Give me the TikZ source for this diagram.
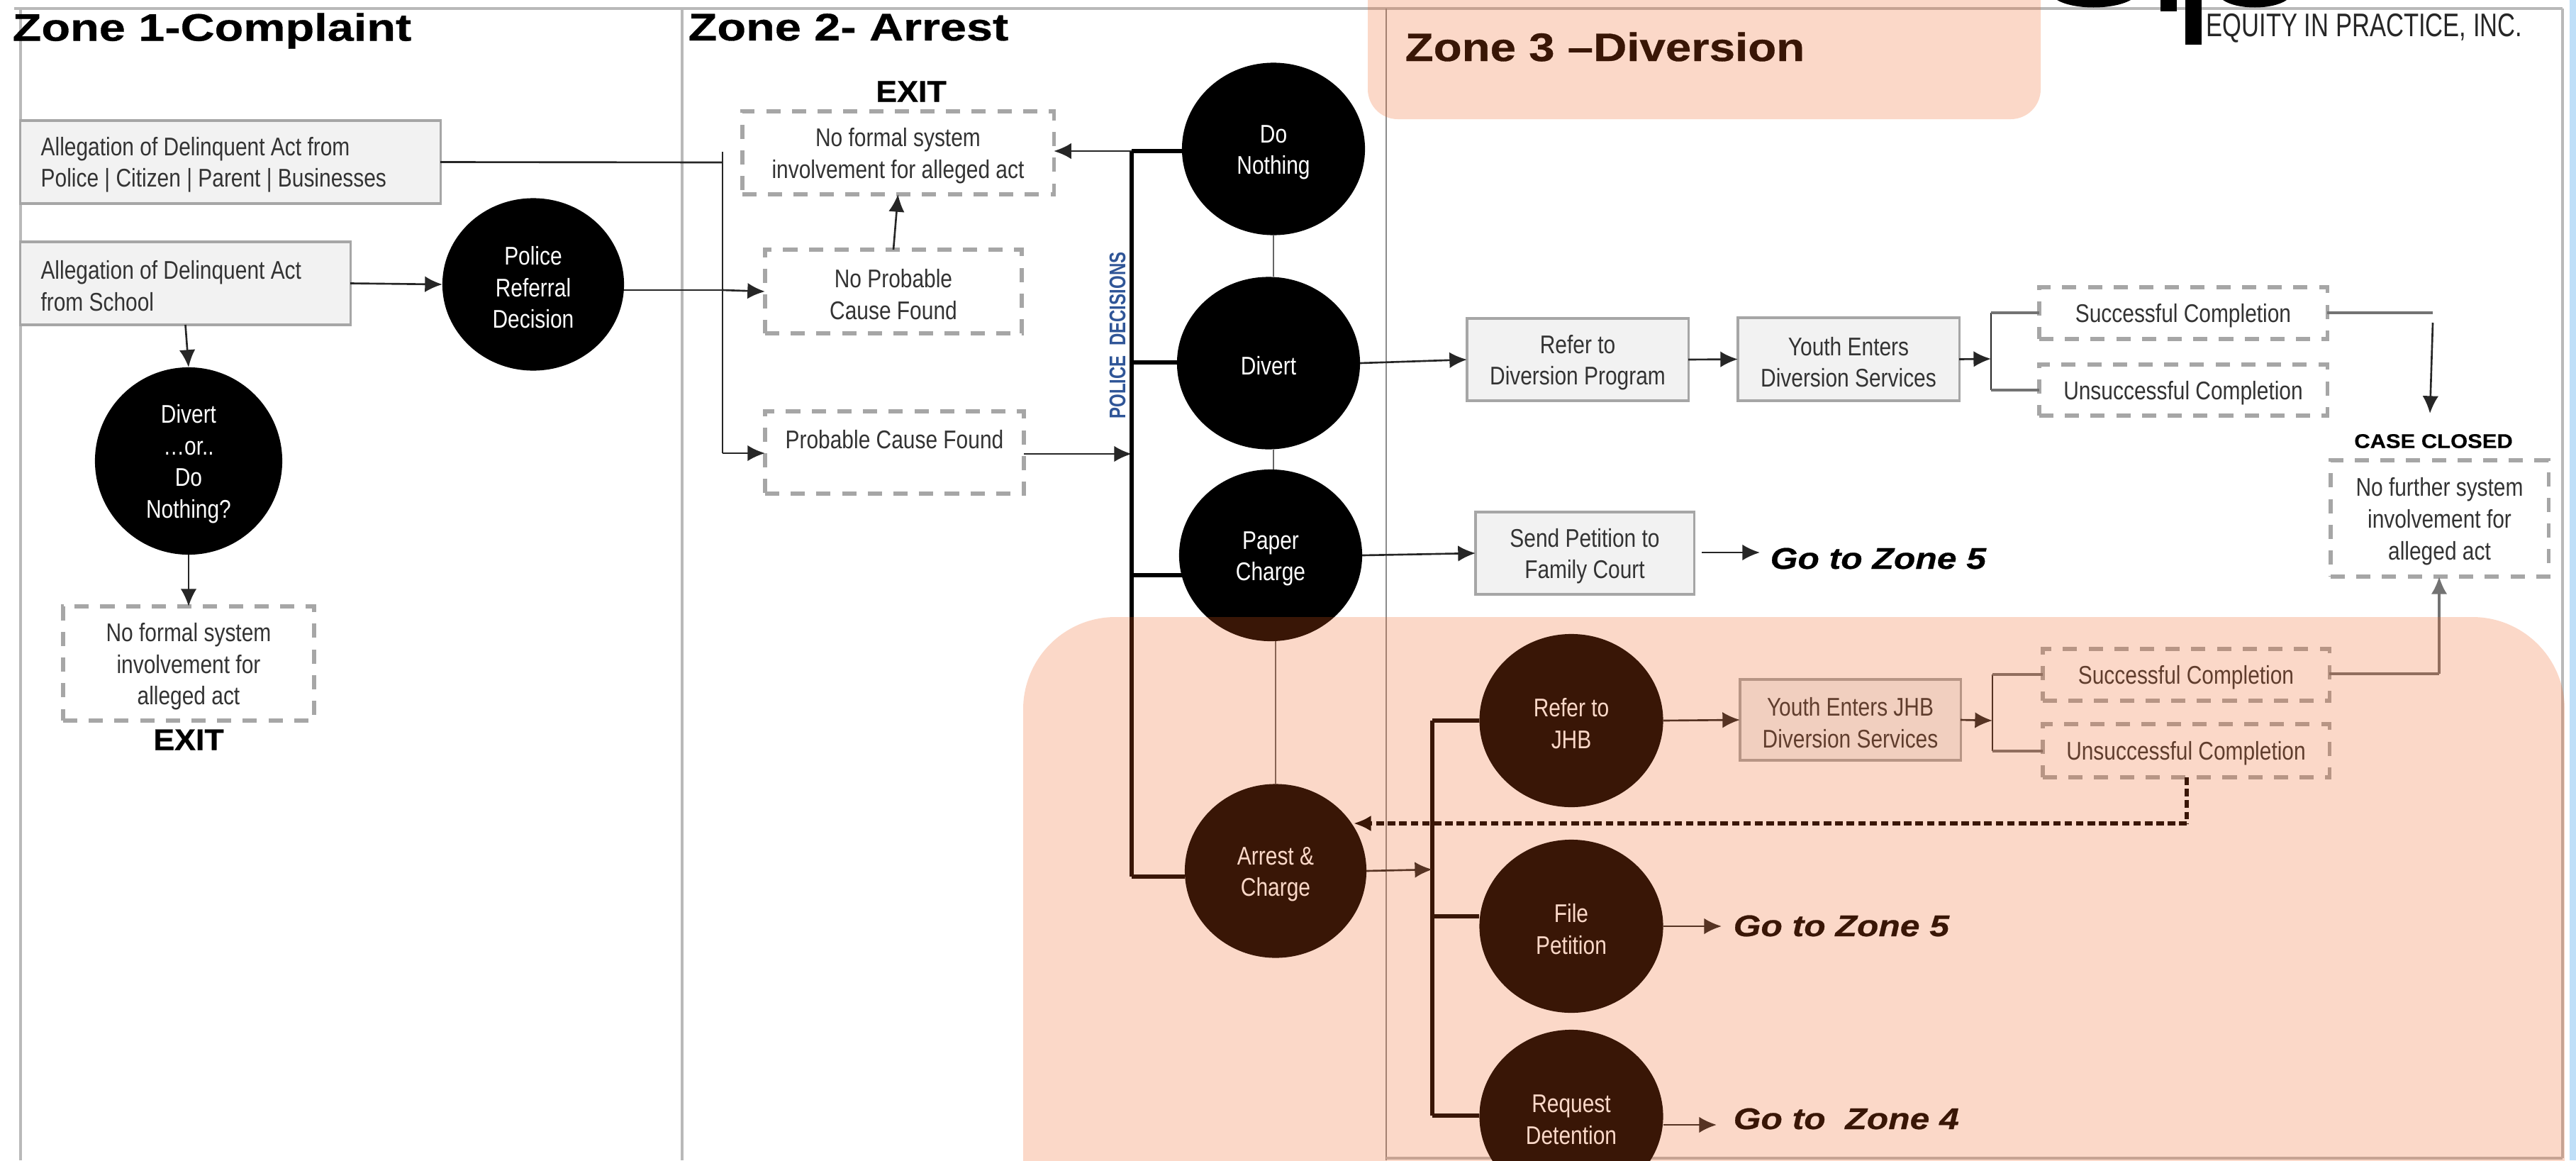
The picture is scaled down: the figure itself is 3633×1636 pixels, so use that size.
\documentclass[tikz,border=0pt]{standalone}
\usepackage{fontspec}
\usetikzlibrary{shapes.geometric,arrows.meta}
\setmainfont{Liberation Sans}
\newfontfamily\bodyf[FakeStretch=0.83]{Liberation Sans}
\newfontfamily\titleAf[FakeStretch=1.23,BoldFeatures={FakeBold=0.6}]{Liberation Sans}
\newfontfamily\titleBf[FakeStretch=1.17,BoldFeatures={FakeBold=0.6}]{Liberation Sans}
\newfontfamily\exitf[FakeStretch=1.06,BoldFeatures={FakeBold=0.6}]{Liberation Sans}
\newfontfamily\casef[FakeStretch=1.1,BoldFeatures={FakeBold=0.4}]{Liberation Sans}
\newfontfamily\gof[FakeStretch=1.18,BoldItalicFeatures={FakeBold=0.6}]{Liberation Sans}
\newfontfamily\polf[FakeStretch=0.75]{Liberation Sans}
\newfontfamily\logof[FakeStretch=0.75]{Liberation Sans}
\newcommand{\fstrut}{\rule{0pt}{9.8pt}}
\definecolor{framegray}{HTML}{B9B9B9}
\definecolor{boxgray}{HTML}{A6A6A6}
\definecolor{boxfill}{HTML}{F2F2F2}
\definecolor{txtdark}{HTML}{333333}
\definecolor{zonetint}{HTML}{F1601D}
\definecolor{polblue}{HTML}{2F5597}
\definecolor{stripblue}{HTML}{BFDFF8}
\tikzset{
  x=0.01cm, y=-0.01cm,
  bodytext/.style={font=\bodyf\fontsize{10.25}{12.7}\selectfont, text=txtdark, align=center, execute at begin node=\rule{0pt}{9.6pt}},
  gbox/.style 2 args={draw=boxgray, line width=0.9pt, fill=boxfill, inner sep=0pt, outer sep=0pt, bodytext,
     minimum width=#1*0.28453pt, minimum height=#2*0.28453pt},
  dbox/.style 2 args={draw=boxgray, line width=1.5pt, dash pattern=on 5.7pt off 4.6pt, fill=none, inner sep=0pt, outer sep=0pt, bodytext,
     minimum width=#1*0.28453pt, minimum height=#2*0.28453pt},
  disc/.style 2 args={ellipse, fill=black, inner sep=0pt, outer sep=0pt, bodytext, text=white,
     minimum width=#1*0.28453pt, minimum height=#2*0.28453pt},
  ztitle/.style={inner sep=0pt, font=\titleAf\bfseries\fontsize{15.4}{18}\selectfont, text=black},
  exitlab/.style={inner sep=0pt, font=\exitf\bfseries\fontsize{12}{14}\selectfont, text=black},
  golab/.style={inner sep=0pt, anchor=base west, font=\gof\bfseries\itshape\fontsize{12}{14}\selectfont, text=black},
  conn/.style={draw=black!85, line width=0.75pt},
  arr/.style={conn, -{Latex[length=7pt,width=6.4pt]}},
  heavy/.style={draw=black, line width=1.6pt},
  stub/.style={draw=black!60, line width=0.6pt},
  graythin/.style={draw=black!55, line width=0.9pt},
  frameln/.style={draw=framegray, line width=1.15pt},
}
\begin{document}
\begin{tikzpicture}
\useasboundingbox (0,0) rectangle (3633,1636);
\clip (0,0) rectangle (3633,1636);
\fill[white] (0,0) rectangle (3633,1636);
\fill[stripblue] (3624,0) rectangle (3633,1636);

% frame
\draw[frameln] (29,12) -- (29,1636);
\draw[frameln] (20,12) -- (3614,12);
\draw[frameln] (962,12) -- (962,1636);
\draw[frameln,line width=0.8pt,draw=black!45] (1955,12) -- (1955,1636);
\draw[frameln] (3614,12) -- (3614,1633);
\draw[frameln] (1955,1633) -- (3614,1633);

% logo
\fill[black] (2901,0) .. controls (2925,14) and (2980,14) .. (3005,0) -- cycle;
\fill[black] (3135,0) .. controls (3155,14) and (3205,14) .. (3225,0) -- cycle;
\fill[black] (3047,0) rectangle (3070,16);
\fill[black] (3082,0) rectangle (3105,63);
\node[inner sep=0pt, anchor=base west, font=\logof\fontsize{13.1}{15}\selectfont, text=black!85] (logo) at (3111,51) {EQUITY IN PRACTICE, INC.};

% titles
\node[ztitle, anchor=base west] (z1) at (17,57.5) {Zone 1-Complaint};
\node[ztitle, anchor=base west] (z2) at (970,57) {Zone 2- Arrest};
\node[inner sep=0pt, anchor=base west, font=\titleBf\bfseries\fontsize{15.9}{18}\selectfont, text=black] (z3) at (1981,86) {Zone 3 –Diversion};

% zone 1
\node[gbox={592}{117}, align=flush left, text width=152pt] (a1) at (325,228.5) {Allegation of Delinquent Act from\\Police | Citizen | Parent | Businesses};
\node[gbox={465}{117}, align=flush left, text width=116pt] (a2) at (261.5,399.5) {Allegation of Delinquent Act\\from School};
\node[disc={256}{243}] (prd) at (752,401) {\fstrut Police\\Referral\\Decision};
\node[disc={264}{264}] (dod) at (266,650) {\fstrut Divert\\…or..\\Do\\Nothing?};
\node[dbox={354}{161}] (e1) at (266,935.5) {\fstrut No formal system\\involvement for\\alleged act};
\node[exitlab] (x1) at (266,1043) {EXIT};

% zone 2
\node[exitlab] (x2) at (1285,129) {EXIT};
\node[dbox={439}{117}] (e2) at (1266.5,215.5) {\fstrut No formal system\\involvement for alleged act};
\node[dbox={362}{118}] (np) at (1260,411) {\fstrut No Probable\\Cause Found};
\node[dbox={365}{116}] (pc) at (1261.5,638) {\fstrut Probable Cause Found\\\mbox{}};
\node[inner sep=0pt, rotate=90, font=\polf\bfseries\fontsize{9.1}{11}\selectfont, text=polblue] (pold) at (1576,473) {POLICE\ \ DECISIONS};
\node[disc={258}{243}] (dn) at (1796,210) {\fstrut Do\\Nothing};
\node[disc={258}{243}] (dv) at (1789,512) {Divert};
\node[disc={258}{242}] (pp) at (1792,783) {\fstrut Paper\\Charge};
\node[disc={256}{245}] (ac) at (1799,1228) {\fstrut Arrest \&\\Charge};

% zone 3
\node[gbox={312}{116}] (rd) at (2225,507) {\fstrut Refer to\\Diversion Program};
\node[gbox={312}{117}] (ye) at (2607,506.5) {\fstrut Youth Enters\\Diversion Services};
\node[dbox={406}{73}] (s1) at (3079,441.5) {Successful Completion};
\node[dbox={406}{72}] (u1) at (3079,550) {Unsuccessful Completion};
\node[inner sep=0pt, font=\casef\bfseries\fontsize{8}{10}\selectfont, text=black] (cc) at (3432,622) {CASE CLOSED};
\node[dbox={307}{164}] (cb) at (3440.5,731) {\fstrut No further system\\involvement for\\alleged act};
\node[gbox={308}{116}] (sp) at (2235,780) {\fstrut Send Petition to\\Family Court};
\node[golab] (g1) at (2496,802) {Go to Zone 5};
\node[disc={259}{244}] (rj) at (2216,1016) {\fstrut Refer to\\JHB};
\node[disc={259}{244}] (fp) at (2216,1306) {\fstrut File\\Petition};
\node[disc={259}{244}] (rq) at (2216,1574) {\fstrut Request\\Detention};
\node[gbox={311}{114}] (yj) at (2609.5,1015) {\fstrut Youth Enters JHB\\Diversion Services};
\node[dbox={404}{73}] (s2) at (3083,951.5) {Successful Completion};
\node[dbox={404}{75}] (u2) at (3083,1058.5) {Unsuccessful Completion};
\node[golab] (g2) at (2444,1320) {Go to Zone 5};
\node[golab] (g3) at (2444,1592) {Go to\ \ Zone 4};

% junction coordinates
\coordinate (j1t) at (1019,214);
\coordinate (j1a) at (1019,229);
\coordinate (j1m) at (1019,409);
\coordinate (j1b) at (1019,639);
\coordinate (bt) at (1596,213);
\coordinate (bv) at (1596,511);
\coordinate (bc) at (1596,640);
\coordinate (bp) at (1596,811);
\coordinate (bb) at (1596,1236);
\coordinate (c2t) at (2020,1016);
\coordinate (c2a) at (2020,1226);
\coordinate (c2f) at (2020,1292);
\coordinate (c2b) at (2020,1573);
\coordinate (br1) at (2808,506);
\coordinate (br1t) at (2808,441);
\coordinate (br1b) at (2808,550);
\coordinate (br2) at (2810,1016);
\coordinate (br2t) at (2810,951);
\coordinate (br2b) at (2810,1059);
\coordinate (ct) at (3431,441);
\coordinate (cd) at (3431,455);
\coordinate (ce) at (3427,583);
\coordinate (cu) at (3440,950);
\coordinate (dk) at (3084,1161);
\coordinate (dke) at (1909,1161);
\coordinate (sps) at (2400,779);
\coordinate (spe) at (2482,779);
\coordinate (fpe) at (2428,1306);
\coordinate (rqs) at (2346,1586);
\coordinate (rqe) at (2421,1586);

% zone 1 connectors
\draw[conn] (a1.east) -- (j1a);
\draw[conn] (j1t) -- (j1b);
\draw[arr] (j1b) -- (pc.west |- j1b);
\draw[arr] (a2.east) -- (prd.west);
\draw[conn] (prd.east |- j1m) -- (j1m);
\draw[arr] (j1m) -- (np.west);
\draw[arr] (a2.south) -- (dod.north);
\draw[arr] (dod.south) -- (e1.north);

% zone 2 connectors
\draw[arr] (np.north) -- (e2.south);
\draw[arr] (pc.east |- bc) -- (bc);
\draw[heavy] (bt) -- (bb);
\draw[heavy] (dn.west |- bt) -- (bt);
\draw[arr] (bt) -- (e2.east |- bt);
\draw[heavy] (bv) -- (dv.west |- bv);
\draw[heavy] (bp) -- (pp.south west |- bp);
\draw[heavy] (bb) -- (ac.west |- bb);
\draw[stub] (dn.south) -- (dv.north -| dn.south);
\draw[stub] (dv.south -| dn.south) -- (pp.north -| dn.south);
\draw[stub] (pp.south -| ac.north) -- (ac.north);

% zone 3 connectors
\draw[arr] (dv.east) -- (rd.west);
\draw[arr] (rd.east) -- (ye.west);
\draw[arr] (ye.east) -- (br1);
\draw[conn] (br1t) -- (br1b);
\draw[graythin] (br1t) -- (s1.west |- br1t);
\draw[graythin] (br1b) -- (u1.west |- br1b);
\draw[graythin] (s1.east |- ct) -- (ct);
\draw[arr] (cd) -- (ce);
\draw[arr] (pp.east) -- (sp.west);
\draw[arr] (sps) -- (spe);

\draw[heavy] (c2t) -- (c2b);
\draw[heavy] (c2t) -- (rj.west);
\draw[heavy] (c2f) -- (fp.west |- c2f);
\draw[heavy] (c2b) -- (rq.west |- c2b);
\draw[arr] (ac.east) -- (c2a);
\draw[arr] (rj.east) -- (yj.west);
\draw[arr] (yj.east) -- (br2);
\draw[conn] (br2t) -- (br2b);
\draw[graythin] (br2t) -- (s2.west |- br2t);
\draw[graythin] (br2b) -- (u2.west |- br2b);
\draw[graythin] (s2.east |- cu) -- (cu);
\draw[graythin,-{Latex[length=7pt,width=6.4pt]}] (cu) -- (cb.south -| cu);
\draw[black, line width=1.6pt, dash pattern=on 3pt off 1.6pt] (u2.south -| dk) -- (dk);
\draw[black, line width=1.6pt, dash pattern=on 3pt off 1.6pt, -{Latex[length=7pt,width=6.4pt]}] (dk) -- (dke);
\draw[arr] (fp.east) -- (fpe);
\draw[arr] (rqs) -- (rqe);

% coloured zone overlays
\fill[zonetint, opacity=0.24, rounded corners=12pt] (1929,-60) rectangle (2878,168);
\fill[zonetint, opacity=0.24, rounded corners=37pt] (1443,870) rectangle (3617,1800);
\end{tikzpicture}
\end{document}
